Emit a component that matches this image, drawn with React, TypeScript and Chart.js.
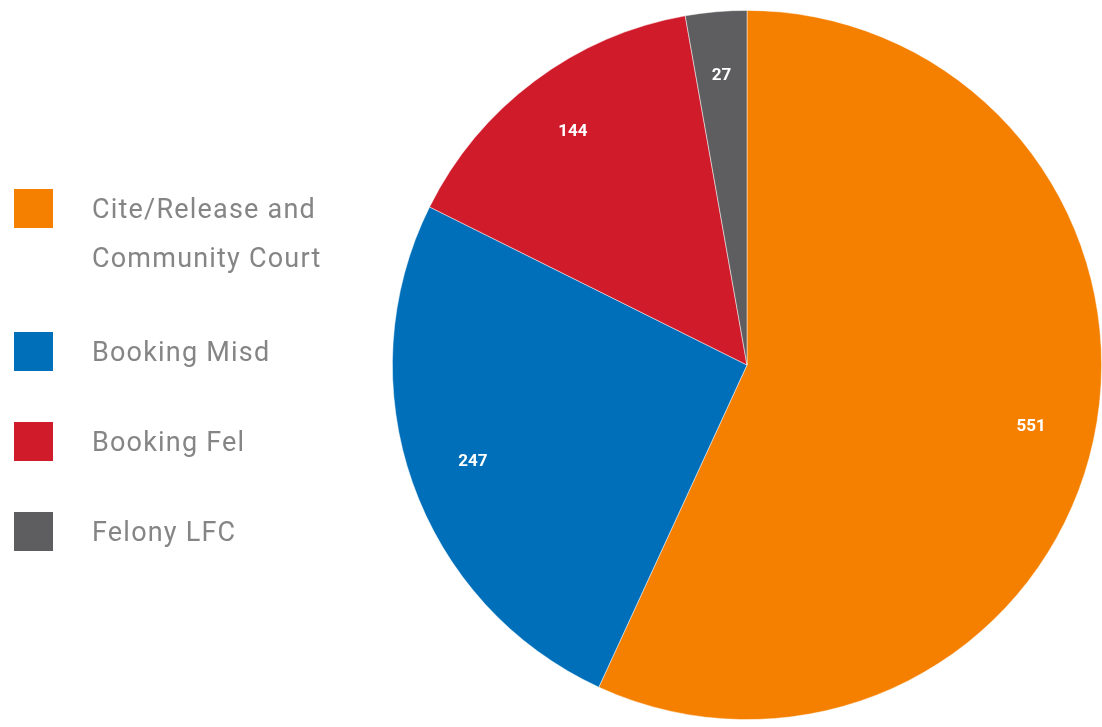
import React, { useEffect, useRef } from "react";
import { Chart, registerables } from "chart.js";

Chart.register(...registerables);

const categories: string[][] = [
  ["Cite/Release and", "Community Court"],
  ["Booking Misd"],
  ["Booking Fel"],
  ["Felony LFC"],
];
const values: number[] = [551, 247, 144, 27];
const colors: string[] = ["#F58000", "#006FBA", "#D01B2B", "#5E5E60"];

const legendTops = [189, 332, 422, 512];

const valueLabels = {
  id: "valueLabels",
  afterDatasetsDraw(chart: any) {
    const ctx = chart.ctx;
    const meta = chart.getDatasetMeta(0);
    ctx.save();
    ctx.fillStyle = "#ffffff";
    ctx.font = "bold 17px Roboto, 'Liberation Sans', sans-serif";
    ctx.textAlign = "center";
    ctx.textBaseline = "middle";
    meta.data.forEach((arc: any, i: number) => {
      const { x, y, startAngle, endAngle, outerRadius } = arc.getProps(
        ["x", "y", "startAngle", "endAngle", "outerRadius"],
        true
      );
      const mid = (startAngle + endAngle) / 2;
      const r = outerRadius * 0.82;
      ctx.fillText(String(values[i]), x + Math.cos(mid) * r, y + Math.sin(mid) * r);
    });
    ctx.restore();
  },
};

export default function App() {
  const canvasRef = useRef<HTMLCanvasElement | null>(null);

  useEffect(() => {
    if (!canvasRef.current) return;
    const chart = new Chart(canvasRef.current, {
      type: "pie",
      data: {
        labels: categories.map((c) => c.join(" ")),
        datasets: [
          {
            data: values,
            backgroundColor: colors,
            borderColor: "rgba(255,255,255,0.6)",
            borderWidth: 0.8,
          },
        ],
      },
      options: {
        animation: false,
        responsive: false,
        maintainAspectRatio: false,
        layout: { padding: { left: 392, right: 0, top: 10, bottom: 7 } },
        plugins: {
          legend: { display: false },
          tooltip: { enabled: false },
        },
      },
      plugins: [valueLabels],
    });
    return () => chart.destroy();
  }, []);

  return (
    <div
      style={{
        position: "absolute",
        left: 0,
        top: 0,
        width: 1102,
        height: 727,
        background: "#ffffff",
        overflow: "hidden",
      }}
    >
      <canvas
        ref={canvasRef}
        width={1102}
        height={727}
        style={{ position: "absolute", left: 0, top: 0, width: 1102, height: 727 }}
      />
      {categories.map((lines, i) => (
        <div
          key={i}
          style={{
            position: "absolute",
            left: 14,
            top: legendTops[i],
            display: "flex",
            alignItems: "flex-start",
          }}
        >
          <div
            style={{
              width: 39,
              height: 39,
              background: colors[i],
              flex: "none",
            }}
          />
          <div
            style={{
              marginLeft: 39,
              marginTop: -4,
              fontFamily: "Roboto, 'Liberation Sans', sans-serif",
              fontSize: 27,
              lineHeight: "49px",
              letterSpacing: 1.2,
              color: "#858585",
              whiteSpace: "nowrap",
            }}
          >
            {lines.map((l, j) => (
              <div key={j}>{l}</div>
            ))}
          </div>
        </div>
      ))}
    </div>
  );
}
